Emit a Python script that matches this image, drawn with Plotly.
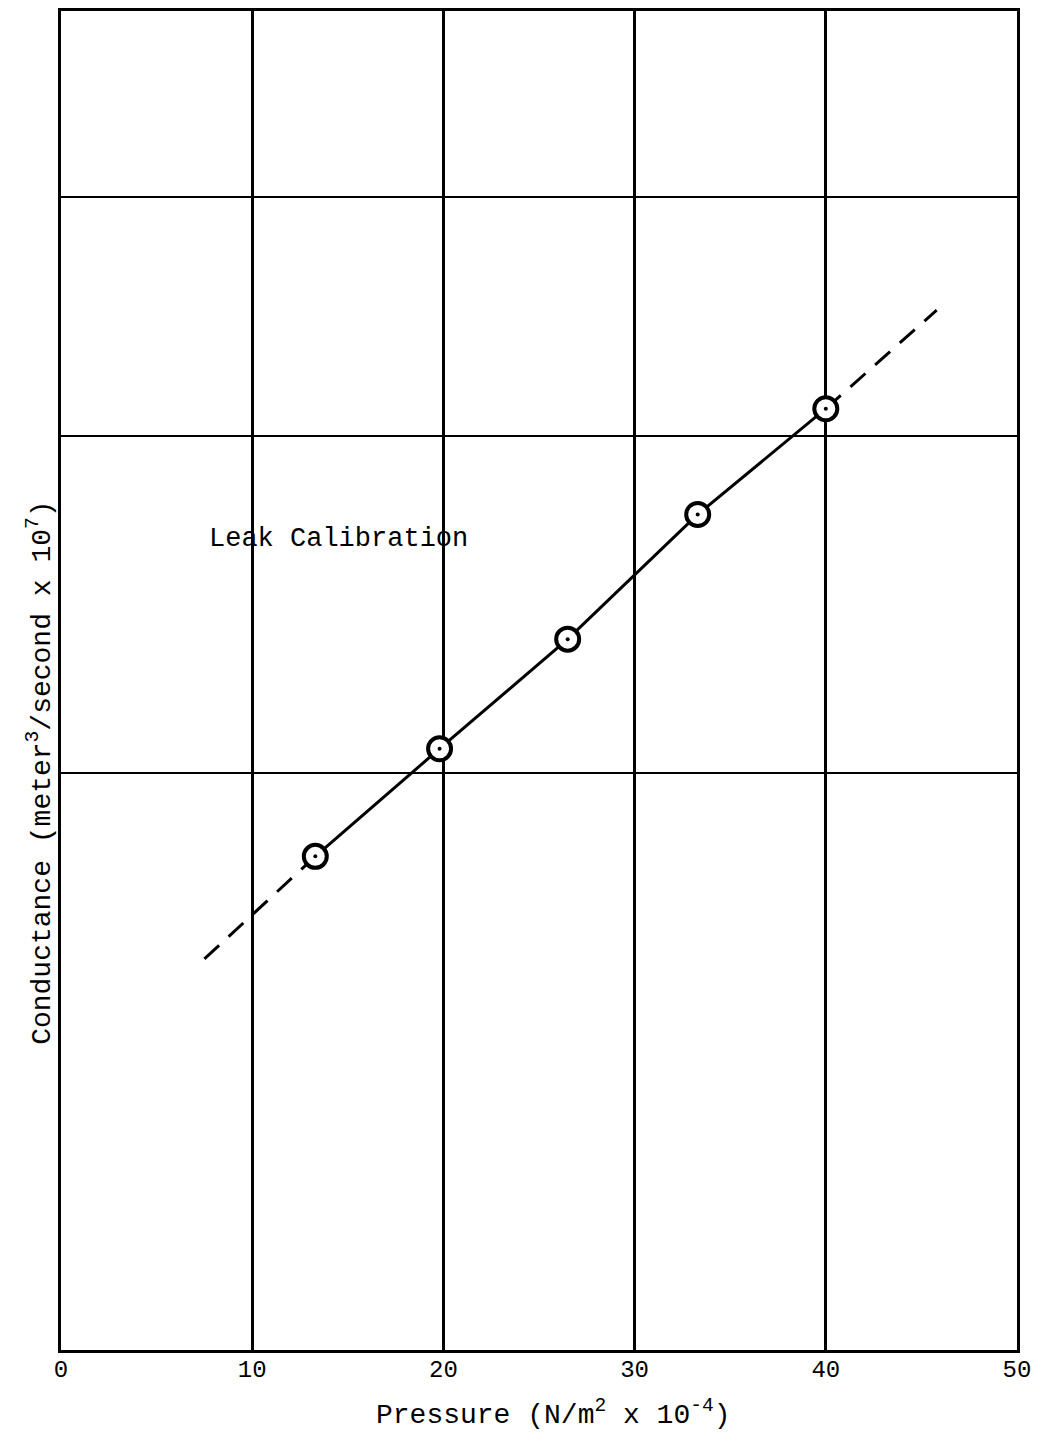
import plotly.graph_objects as go

# Data
pressure = [13.3, 19.8, 26.5, 33.3, 40.0]
conductance = [1.81, 2.06, 2.35, 2.73, 3.10]
ext_low_x = [7.5, 13.3]
ext_low_y = [1.60, 1.81]
ext_high_x = [40.0, 45.8]
ext_high_y = [3.10, 3.49]
x_ticks = [0, 10, 20, 30, 40, 50]
y_grid = [2, 3, 4]

FONT = "Liberation Mono, Courier New, monospace"

fig = go.Figure()
fig.add_trace(go.Scatter(x=ext_low_x, y=ext_low_y, mode="lines",
                         line=dict(color="black", width=3, dash="20px,13px"),
                         hoverinfo="skip", showlegend=False))
fig.add_trace(go.Scatter(x=ext_high_x, y=ext_high_y, mode="lines",
                         line=dict(color="black", width=3, dash="20px,13px"),
                         hoverinfo="skip", showlegend=False))
fig.add_trace(go.Scatter(x=pressure, y=conductance, mode="lines",
                         line=dict(color="black", width=3),
                         showlegend=False))
fig.add_trace(go.Scatter(x=pressure, y=conductance, mode="markers",
                         marker=dict(symbol="circle", size=23, color="white",
                                     line=dict(color="black", width=4)),
                         showlegend=False))
fig.add_trace(go.Scatter(x=pressure, y=conductance, mode="markers",
                         marker=dict(symbol="circle", size=4, color="black"),
                         showlegend=False))

fig.add_annotation(x=7.66, y=0.4234, xref="x", yref="y", text="Leak Calibration",
                   showarrow=False, xanchor="left", yanchor="middle",
                   font=dict(family=FONT, size=27, color="black"))

# Axis titles (placed as in the reference, slightly off-centre)
fig.add_annotation(x=0.515, y=-0.047, xref="paper", yref="paper",
                   text="Pressure (N/m<sup>2</sup> x 10<sup>-4</sup>)",
                   showarrow=False, xanchor="center", yanchor="middle",
                   font=dict(family=FONT, size=28, color="black"))
fig.add_annotation(x=-0.022, y=0.431, xref="paper", yref="paper",
                   text="Conductance (meter<sup>3</sup>/second x 10<sup>7</sup>)",
                   textangle=-90, showarrow=False, xanchor="center", yanchor="middle",
                   font=dict(family=FONT, size=28, color="black"))

fig.update_layout(
    width=1031, height=1425,
    margin=dict(l=53, r=22, t=0, b=83),
    paper_bgcolor="white", plot_bgcolor="white",
    font=dict(family=FONT, color="black"),
    xaxis=dict(range=[0, 50], tickvals=x_ticks, ticktext=[str(v) for v in x_ticks],
               showgrid=True, gridcolor="black", gridwidth=2.5,
               showline=True, linecolor="black", linewidth=3, mirror=True,
               ticks="", zeroline=False, ticklabelstandoff=-5,
               tickfont=dict(family=FONT, size=24, color="black")),
    yaxis=dict(type="log", range=[0, 0.69897], tickvals=y_grid,
               showticklabels=False, showgrid=True, gridcolor="black", gridwidth=1.5,
               showline=True, linecolor="black", linewidth=3, mirror=True,
               ticks="", zeroline=False),
)

fig.write_html("out.html")
